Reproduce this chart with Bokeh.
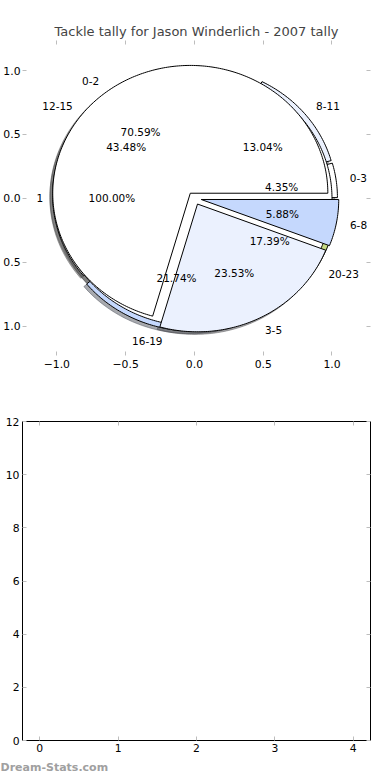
import numpy as np
from bokeh.plotting import figure
from bokeh.models import ColumnDataSource, LinearAxis, Title, FixedTicker, LabelSet
from bokeh.layouts import column
from bokeh.embed import file_html
from bokeh.resources import INLINE
from bokeh.core.properties import value

# ---------------- data ----------------
title_text = "Tackle tally for Jason Winderlich - 2007 tally"
watermark_text = "Dream-Stats.com"

pie1_labels = ["1"]
pie1_values = [1]
pie1_colors = ["#ffffff"]

pie2_labels = ["0-2", "3-5", "6-8"]
pie2_values = [12, 4, 1]
pie2_colors = ["#ffffff", "#ebf1fe", "#c5d8fd"]

pie3_labels = ["0-3", "8-11", "12-15", "16-19", "20-23"]
pie3_values = [1, 3, 10, 5, 4]
pie3_colors = ["#ffffff", "#ebf1fe", "#ffffff", "#c5d8fd", "#c6da84"]

pie_x_ticks = [-1.0, -0.5, 0.0, 0.5, 1.0]
pie_x_tick_labels = ["\u22121.0", "\u22120.5", "0.0", "0.5", "1.0"]
pie_y_tick_labels = ["1.0", "0.5", "0.0", "0.5", "1.0"]

bar_x_ticks = [0, 1, 2, 3, 4]
bar_y_ticks = [0, 2, 4, 6, 8, 10, 12]

TICK_GREY = "#bdbdbd"
FONT = value("DejaVu Sans")


def shade(hexcol):
    h = hexcol.lstrip("#")
    r, g, b = (int(h[i:i + 2], 16) for i in (0, 2, 4))
    return "#%02x%02x%02x" % (int(r * 0.3), int(g * 0.3), int(b * 0.3))


def pie_geometry(values, colors, labels, explode):
    total = float(sum(values))
    theta = 0.0
    out = dict(xs=[], ys=[], sxs=[], sys=[], color=[], scolor=[],
               lx=[], ly=[], ltext=[], lalign=[], px=[], py=[], ptext=[])
    for v, c, lab in zip(values, colors, labels):
        frac = v / total
        t1, t2 = theta, theta + frac * 2 * np.pi
        tm = 0.5 * (t1 + t2)
        cx, cy = explode * np.cos(tm), explode * np.sin(tm)
        ts = np.linspace(t1, t2, max(int(frac * 400), 8))
        ax = list(cx + np.cos(ts))
        ay = list(cy + np.sin(ts))
        if frac < 0.999999:
            ax = [cx] + ax
            ay = [cy] + ay
        out["xs"].append(ax)
        out["ys"].append(ay)
        out["sxs"].append([x - 0.02 for x in ax])
        out["sys"].append([y - 0.02 for y in ay])
        out["color"].append(c)
        out["scolor"].append(shade(c))
        lx = cx + 1.1 * np.cos(tm)
        ly = cy + 1.1 * np.sin(tm)
        out["lx"].append(lx)
        out["ly"].append(ly)
        out["ltext"].append(lab)
        out["lalign"].append("left" if lx > 0 else "right")
        out["px"].append(cx + 0.6 * np.cos(tm))
        out["py"].append(cy + 0.6 * np.sin(tm))
        out["ptext"].append("%.2f%%" % (frac * 100))
        theta = t2
    return out


pies = [
    pie_geometry(pie3_values, pie3_colors, pie3_labels, 0.04),
    pie_geometry(pie1_values, pie1_colors, pie1_labels, 0.0),
    pie_geometry(pie2_values, pie2_colors, pie2_labels, 0.05),
]


def style_axis(ax, ticks, overrides=None, standoff=4):
    ax.ticker = FixedTicker(ticks=ticks)
    ax.axis_line_color = None
    ax.major_tick_in = 4
    ax.major_tick_out = 0
    ax.major_tick_line_color = TICK_GREY
    ax.major_tick_line_width = 1
    ax.minor_tick_line_color = None
    ax.major_label_standoff = standoff
    ax.major_label_text_font = "DejaVu Sans"
    ax.major_label_text_font_size = "10.8px"
    ax.major_label_text_color = "black"
    if overrides:
        ax.major_label_overrides = overrides


def tick_only_axis(ticks):
    ax = LinearAxis(ticker=FixedTicker(ticks=[], minor_ticks=ticks))
    ax.axis_line_color = None
    ax.major_tick_line_color = None
    ax.minor_tick_in = 4
    ax.minor_tick_out = 0
    ax.minor_tick_line_color = TICK_GREY
    ax.minor_tick_line_width = 1
    ax.major_label_standoff = 0
    return ax


# ---------------- pie figure ----------------
p1 = figure(width=390, height=388, x_range=(-1.25, 1.28), y_range=(-1.23, 1.235),
            output_backend="svg", toolbar_location=None,
            min_border_left=20, min_border_right=16, min_border_top=40, min_border_bottom=33)
p1.title.text = title_text
p1.title.text_font = "DejaVu Sans"
p1.title.text_font_size = "13px"
p1.title.text_font_style = "normal"
p1.title.align = "center"
p1.title.standoff = 4
p1.outline_line_color = None
p1.grid.visible = False
p1.background_fill_color = "white"
p1.border_fill_color = "white"

# shadows (all beneath wedges)
for g in pies:
    src = ColumnDataSource(dict(xs=g["sxs"], ys=g["sys"], scolor=g["scolor"]))
    p1.patches("xs", "ys", source=src, fill_color="scolor", fill_alpha=0.45,
               line_color="scolor", line_alpha=0.45, line_width=1)
# wedges
for g in pies:
    src = ColumnDataSource(dict(xs=g["xs"], ys=g["ys"], color=g["color"]))
    p1.patches("xs", "ys", source=src, fill_color="color", line_color="black",
               line_width=1, line_join="miter")

# texts
for g in pies:
    for align in ("left", "right"):
        idx = [i for i, a in enumerate(g["lalign"]) if a == align]
        if not idx:
            continue
        lsrc = ColumnDataSource(dict(x=[g["lx"][i] for i in idx],
                                     y=[g["ly"][i] for i in idx],
                                     text=[g["ltext"][i] for i in idx]))
        p1.add_layout(LabelSet(x="x", y="y", text="text", source=lsrc, text_align=align,
                               text_baseline="middle", text_font=FONT,
                               text_font_size="10.5px", text_color="black"))
    psrc = ColumnDataSource(dict(x=g["px"], y=g["py"], text=g["ptext"]))
    p1.add_layout(LabelSet(x="x", y="y", text="text", source=psrc, text_align="center",
                           text_baseline="middle", text_font=FONT,
                           text_font_size="10.5px", text_color="black"))

style_axis(p1.xaxis[0], pie_x_ticks, dict(zip(pie_x_ticks, pie_x_tick_labels)), standoff=4)
style_axis(p1.yaxis[0], pie_x_ticks, dict(zip(pie_x_ticks, pie_y_tick_labels)), standoff=2)
p1.add_layout(tick_only_axis(pie_x_ticks), "above")
p1.add_layout(tick_only_axis(pie_x_ticks), "right")

# ---------------- empty lower axes ----------------
p2 = figure(width=390, height=390, x_range=(-0.22, 4.22), y_range=(0, 12),
            output_backend="svg", toolbar_location=None,
            min_border_left=20, min_border_right=20, min_border_top=33, min_border_bottom=38)
p2.outline_line_color = "black"
p2.outline_line_width = 1
p2.grid.visible = False
p2.background_fill_color = "white"
p2.border_fill_color = "white"
style_axis(p2.xaxis[0], bar_x_ticks, standoff=3)
style_axis(p2.yaxis[0], bar_y_ticks, standoff=3)
p2.add_layout(tick_only_axis(bar_x_ticks), "above")
p2.add_layout(tick_only_axis(bar_y_ticks), "right")

wm = Title(text=watermark_text, align="left", offset=-22, standoff=8,
           text_font="DejaVu Sans", text_font_style="bold", text_font_size="11px",
           text_color="#a0a0a0")
p2.add_layout(wm, "below")

layout = column(p1, p2, spacing=0)
open("out.html", "w").write(file_html(layout, INLINE))
